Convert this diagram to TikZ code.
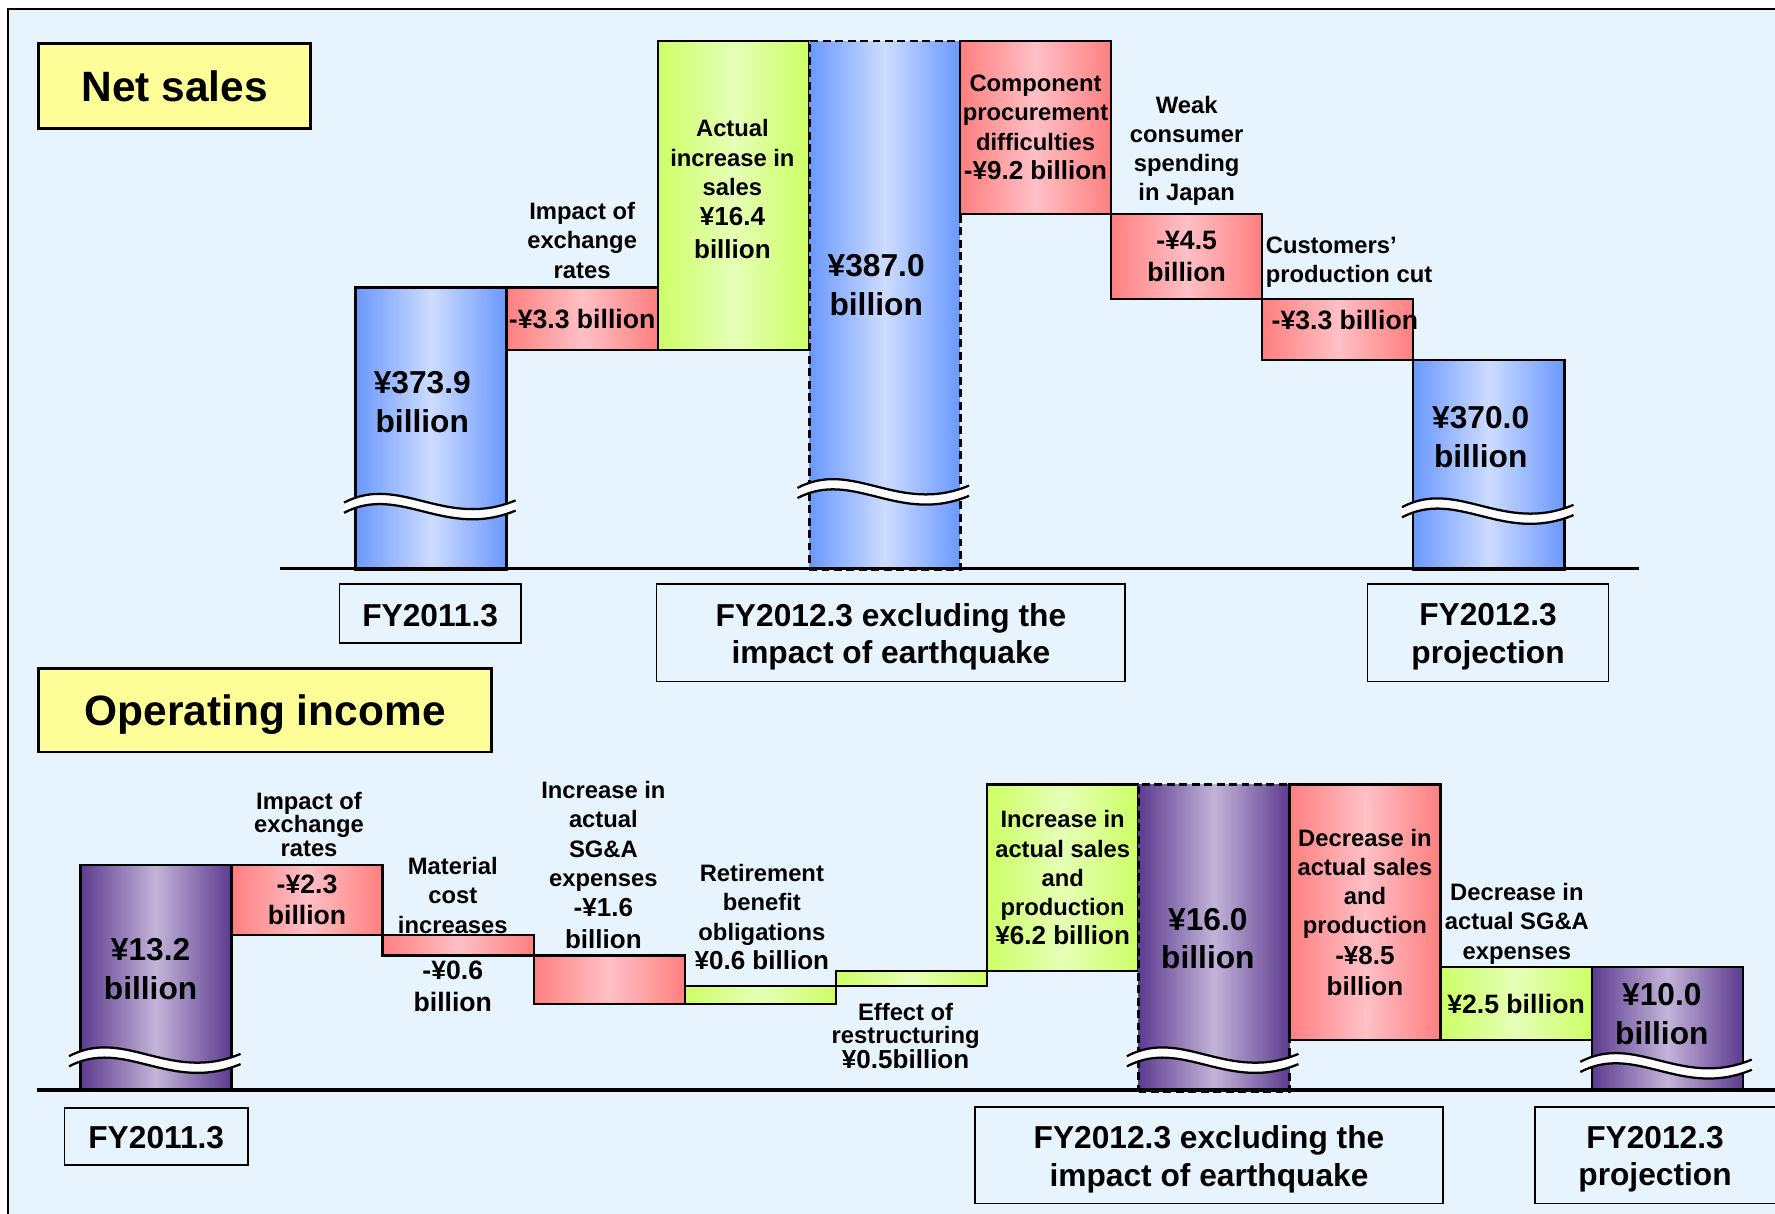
\documentclass[tikz,border=0pt]{standalone}
\usepackage{fontspec}
\setmainfont{Liberation Sans}
\usepackage{tikz}
\usetikzlibrary{positioning}
\usepackage{xcolor}

\definecolor{bgblue}{HTML}{E7F4FE}
\definecolor{titleyel}{HTML}{FFFF99}
\definecolor{blueedge}{HTML}{6A98FF}
\definecolor{bluemid}{HTML}{CDDCFF}
\definecolor{rededge}{HTML}{FF7F7F}
\definecolor{redmid}{HTML}{FFC0C6}
\definecolor{grnedge}{HTML}{CCFF66}
\definecolor{grnmid}{HTML}{E6FFB6}
\definecolor{purpedge}{HTML}{5C3B8F}
\definecolor{purpmid}{HTML}{C3B4D9}

%% amount line inside a label
\newcommand{\amt}[1]{{\fontsize{23}{28}\selectfont #1}}

%% wavy break across a bar: left x, right x, y
\newcommand{\barcut}[3]{%
  \fill[white] ({#1-9},{#3-2})
    .. controls ({#1+0.3*(#2-#1)},{#3-28}) and ({#1+0.6*(#2-#1)},{#3+22}) .. ({#2+9},{#3-4})
    -- ({#2+9},{#3+5})
    .. controls ({#1+0.6*(#2-#1)},{#3+31}) and ({#1+0.3*(#2-#1)},{#3-19}) .. ({#1-9},{#3+7}) -- cycle;
  \draw[line width=2pt] ({#1-9},{#3-2})
    .. controls ({#1+0.3*(#2-#1)},{#3-28}) and ({#1+0.6*(#2-#1)},{#3+22}) .. ({#2+9},{#3-4});
  \draw[line width=2pt] ({#1-9},{#3+7})
    .. controls ({#1+0.3*(#2-#1)},{#3-19}) and ({#1+0.6*(#2-#1)},{#3+31}) .. ({#2+9},{#3+5});
}

\begin{document}
\begin{tikzpicture}[
  x=1pt, y=-1pt,
  every node/.style={align=center, inner sep=0pt},
  title/.style  ={rectangle, draw, line width=2.5pt, fill=titleyel, anchor=north west, text depth=0pt, font=\fontsize{37.5}{44}\selectfont\bfseries},
  fybox/.style  ={rectangle, draw, line width=1.5pt},
  fytext/.style ={font=\fontsize{28}{33}\selectfont\bfseries},
  col/.style    ={rectangle, draw, line width=2pt, anchor=north west, minimum width=133.5pt},
  bluebar/.style={col, left color=blueedge, right color=blueedge, middle color=bluemid},
  purpbar/.style={col, left color=purpedge, right color=purpedge, middle color=purpmid},
  redbox/.style ={col, left color=rededge, right color=rededge, middle color=redmid},
  grnbox/.style ={col, left color=grnedge, right color=grnedge, middle color=grnmid},
  estbar/.style ={line width=2.5pt, dash pattern=on 7pt off 4pt},
  amount/.style ={font=\fontsize{28}{34}\selectfont\bfseries},
  num/.style    ={font=\fontsize{23.5}{28}\selectfont\bfseries},
  lbl/.style    ={font=\fontsize{21}{25.8}\selectfont\bfseries},
  tight/.style  ={font=\fontsize{21}{20.8}\selectfont\bfseries}
]

%% page and panel
\useasboundingbox (0,0) rectangle (1568,1072);
\fill[white] (0,0) rectangle (1568,1072);
\draw[fill=bgblue, line width=1.5pt] (7,8) rectangle (1590,1090);

%% ---------------- Net sales ----------------
\node[title, minimum width=240pt, minimum height=75pt] (nstitle) at (33,37) {Net sales};

\node[bluebar, minimum height=249pt] (nsb1) at (313,253) {};
\node[redbox, num, minimum height=55pt] (nsfx) at (446.5,253) {-¥3.3 billion};
\node[grnbox, minimum height=273pt] (nsup) at (580,35) {};
\node[bluebar, estbar, minimum height=467pt] (nsb2) at (713.5,35) {};
\node[redbox, lbl, minimum height=153pt] (nscomp) at (847,35)
  {Component\\procurement\\difficulties\\\amt{-¥9.2 billion}};
\node[redbox, num, minimum height=75pt] (nsweak) at (980.5,188) {-¥4.5\\billion};
\node[redbox, minimum height=54pt] (nscut) at (1114,263) {};
\node[bluebar, minimum height=185pt] (nsb3) at (1247.5,317) {};

\barcut{313}{446.5}{446}
\barcut{713.5}{847}{433}
\barcut{1247.5}{1381}{450}

\draw[line width=3pt] (247,502) -- (1448,502);

\node[amount] (nsv1) at (373,355) {¥373.9\\billion};
\node[amount] (nsv2) at (774,252) {¥387.0\\billion};
\node[amount] (nsv3) at (1308,386) {¥370.0\\billion};

\node[lbl] (nsupt) at (647,167) {Actual\\increase in\\sales\\[1pt]\amt{¥16.4}\\[3pt]\amt{billion}};
\node[lbl, above=7pt of nsfx] (nsfxl) {Impact of\\exchange\\rates};
\node[lbl, above=6pt of nsweak] (nsweakl) {Weak\\consumer\\spending\\in Japan};
\node[lbl, align=left, above right=9pt and 4pt of nscut.north west] (nscutl) {Customers’\\production cut};
\node[num] (nscutv) at (1188,283) {-¥3.3 billion};

\node[fybox, minimum width=160pt, minimum height=52pt] (nsfy1) at (380,542) {};
\node[fybox, minimum width=414pt, minimum height=86pt] (nsfy2) at (787,559) {};
\node[fybox, minimum width=213pt, minimum height=86pt] (nsfy3) at (1314.5,559) {};
\node[fytext] (nsfy1t) at ([yshift=-2pt]nsfy1.center) {FY2011.3};
\node[fytext] (nsfy2t) at ([yshift=-3.5pt]nsfy2.center) {FY2012.3 excluding the\\impact of earthquake};
\node[fytext] (nsfy3t) at ([yshift=-3.5pt]nsfy3.center) {FY2012.3\\projection};

%% ---------------- Operating income ----------------
\node[title, minimum width=400pt, minimum height=74pt] (oititle) at (33,589) {Operating income};

\node[purpbar, minimum height=200pt] (oib1) at (70,763) {};
\node[redbox, num, minimum height=62pt] (oifx) at (203.5,763) {-¥2.3\\billion};
\node[redbox, minimum height=18pt] (oimat) at (337,825) {};
\node[redbox, minimum height=43pt] (oisga) at (470.5,843) {};
\node[grnbox, minimum height=16pt] (oiret) at (604,870) {};
\node[grnbox, minimum height=13pt] (oirst) at (737.5,857) {};
\node[grnbox, lbl, minimum height=165pt] (oiup) at (871,692)
  {Increase in\\actual sales\\and\\production\\\amt{¥6.2 billion}};
\node[purpbar, estbar, minimum height=271pt] (oib2) at (1004.5,692) {};
\node[redbox, lbl, minimum height=226pt] (oidown) at (1138,692)
  {Decrease in\\actual sales\\and\\production\\[1pt]\amt{-¥8.5}\\[2pt]\amt{billion}};
\node[grnbox, num, minimum height=65pt] (oisga2) at (1271.5,853) {¥2.5 billion};
\node[purpbar, minimum height=110pt] (oib3) at (1405,853) {};

\barcut{70}{203.5}{935}
\barcut{1004.5}{1138}{935}
\barcut{1405}{1538.5}{940}

\draw[line width=3pt] (33,963) -- (1575,963);

\node[amount] (oiv1) at (133,856) {¥13.2\\billion};
\node[amount] (oiv2) at (1067,829) {¥16.0\\billion};
\node[amount] (oiv3) at (1468,896) {¥10.0\\billion};

\node[tight] (oifxl) at (273,728) {Impact of\\exchange\\rates};
\node[lbl] (oimatl) at (400,791) {Material\\cost\\increases};
\node[num] (oimatv) at (400,871) {-¥0.6\\billion};
\node[lbl] (oisgal) at (533,764) {Increase in\\actual\\SG\&A\\expenses\\[1pt]\amt{-¥1.6}\\[2pt]\amt{billion}};
\node[lbl] (oiretl) at (673,810) {Retirement\\benefit\\obligations\\\amt{¥0.6 billion}};
\node[tight] (oirstl) at (800,915) {Effect of\\restructuring\\\amt{¥0.5billion}};
\node[lbl] (oisga2l) at (1340,816) {Decrease in\\actual SG\&A\\expenses};

\node[fybox, minimum width=162pt, minimum height=50pt] (oify1) at (138,1004) {};
\node[fybox, minimum width=414pt, minimum height=85pt] (oify2) at (1068,1020.5) {};
\node[fybox, minimum width=216pt, minimum height=85pt, anchor=west] (oify3) at (1355,1020.5) {};
\node[fytext] (oify1t) at ([yshift=-1pt]oify1.center) {FY2011.3};
\node[fytext] (oify2t) at ([yshift=-3.5pt]oify2.center) {FY2012.3 excluding the\\impact of earthquake};
\node[fytext] (oify3t) at (1462,1024) {FY2012.3\\projection};

\end{tikzpicture}
\end{document}
